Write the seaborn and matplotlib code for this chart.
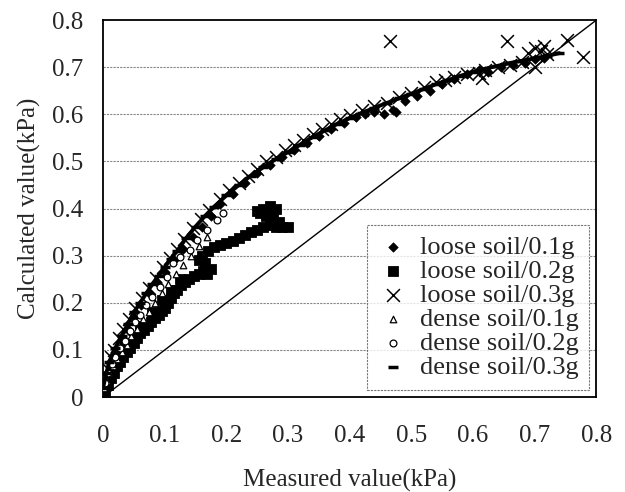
import matplotlib
matplotlib.use("Agg")
import matplotlib.pyplot as plt
import seaborn as sns
import pandas as pd

# 1:1 reference line
diag_x = [0.0, 0.8]
diag_y = [0.0, 0.8]

# loose soil / 0.1g (filled diamonds)
loose01_x = [0.002, 0.006, 0.012, 0.02, 0.03, 0.04, 0.05, 0.062, 0.075, 0.088, 0.10, 0.115,
             0.13, 0.145, 0.16, 0.175, 0.19, 0.21, 0.23, 0.25, 0.27, 0.29, 0.31, 0.33, 0.35,
             0.37, 0.39, 0.41, 0.425, 0.44, 0.455, 0.47, 0.475, 0.49, 0.51, 0.53, 0.55, 0.57,
             0.59, 0.61, 0.625, 0.645, 0.665, 0.685, 0.70, 0.715]
loose01_y = [0.02, 0.05, 0.07, 0.095, 0.12, 0.145, 0.17, 0.195, 0.22, 0.245, 0.265, 0.29,
             0.315, 0.34, 0.36, 0.385, 0.41, 0.43, 0.455, 0.475, 0.492, 0.51, 0.525, 0.54, 0.555,
             0.57, 0.582, 0.594, 0.60, 0.605, 0.60, 0.61, 0.605, 0.628, 0.64, 0.65, 0.664, 0.675,
             0.685, 0.695, 0.69, 0.70, 0.705, 0.71, 0.718, 0.72]

# loose soil / 0.2g (filled squares)
loose02_x = [0.003, 0.008, 0.012, 0.018, 0.022, 0.028, 0.033, 0.038, 0.044, 0.05, 0.055, 0.06,
             0.066, 0.072, 0.078, 0.084, 0.09, 0.096, 0.10, 0.105, 0.11, 0.115, 0.12, 0.127,
             0.133, 0.14, 0.147, 0.155, 0.162, 0.168, 0.175, 0.165, 0.155, 0.16, 0.17, 0.18,
             0.19, 0.20, 0.21, 0.22, 0.23, 0.24, 0.25, 0.26, 0.27, 0.28, 0.29, 0.30, 0.285,
             0.275, 0.265, 0.255, 0.26, 0.27, 0.28, 0.25,
             0.04, 0.06, 0.08, 0.095, 0.11, 0.125]
loose02_y = [0.01, 0.025, 0.04, 0.05, 0.065, 0.075, 0.085, 0.095, 0.105, 0.115, 0.125, 0.135,
             0.142, 0.15, 0.16, 0.168, 0.175, 0.183, 0.19, 0.20, 0.21, 0.22, 0.228, 0.238,
             0.245, 0.25, 0.256, 0.262, 0.268, 0.262, 0.272, 0.285, 0.29, 0.30, 0.31, 0.318,
             0.322, 0.328, 0.332, 0.338, 0.344, 0.35, 0.355, 0.36, 0.365, 0.362, 0.36, 0.362,
             0.372, 0.378, 0.385, 0.39, 0.40, 0.405, 0.40, 0.395,
             0.115, 0.15, 0.18, 0.205, 0.228, 0.25]

# loose soil / 0.3g (x marks)
loose03_x = [0.003, 0.008, 0.012, 0.018, 0.025, 0.033, 0.042, 0.052, 0.063, 0.074, 0.085, 0.097,
             0.108, 0.12, 0.132, 0.145, 0.158, 0.172, 0.19, 0.205, 0.22, 0.235, 0.25, 0.265,
             0.28, 0.295, 0.31, 0.325, 0.34, 0.355, 0.37, 0.385, 0.40, 0.42, 0.44, 0.46, 0.48,
             0.50, 0.52, 0.54, 0.555, 0.57, 0.59, 0.61, 0.615, 0.62, 0.64, 0.66, 0.68, 0.69,
             0.70, 0.71, 0.715, 0.72, 0.70, 0.465, 0.655, 0.752, 0.779]
loose03_y = [0.03, 0.06, 0.085, 0.10, 0.125, 0.145, 0.165, 0.19, 0.21, 0.232, 0.252, 0.275,
             0.295, 0.315, 0.335, 0.358, 0.378, 0.398, 0.42, 0.44, 0.455, 0.47, 0.485, 0.50,
             0.51, 0.525, 0.535, 0.545, 0.558, 0.57, 0.58, 0.59, 0.598, 0.61, 0.618, 0.625, 0.636,
             0.645, 0.658, 0.668, 0.672, 0.68, 0.685, 0.688, 0.678, 0.695, 0.70, 0.705, 0.712, 0.73,
             0.74, 0.735, 0.745, 0.728, 0.70, 0.755, 0.755, 0.758, 0.722]

# dense soil / 0.1g (open triangles)
dense01_x = [0.002, 0.006, 0.01, 0.016, 0.022, 0.03, 0.038, 0.046, 0.055, 0.064, 0.074, 0.084,
             0.095, 0.106, 0.118, 0.13, 0.142, 0.155, 0.168]
dense01_y = [0.02, 0.035, 0.05, 0.065, 0.08, 0.095, 0.11, 0.13, 0.145, 0.165, 0.18, 0.20,
             0.22, 0.24, 0.262, 0.28, 0.30, 0.32, 0.34]

# dense soil / 0.2g (open circles)
dense02_x = [0.003, 0.008, 0.014, 0.02, 0.027, 0.035, 0.043, 0.052, 0.06, 0.07, 0.08, 0.092,
             0.104, 0.114, 0.125, 0.141, 0.153, 0.169, 0.185, 0.195]
dense02_y = [0.03, 0.05, 0.07, 0.085, 0.105, 0.12, 0.14, 0.16, 0.175, 0.195, 0.212, 0.233,
             0.255, 0.284, 0.297, 0.312, 0.333, 0.354, 0.376, 0.39]

# dense soil / 0.3g (dash markers, dense enough to read as a thick curve)
dense03_x = [0.0, 0.005, 0.01, 0.02, 0.03, 0.04, 0.05, 0.06, 0.07, 0.08, 0.09, 0.10, 0.11,
             0.12, 0.135, 0.15, 0.165, 0.18, 0.20, 0.22, 0.24, 0.26, 0.28, 0.30, 0.32, 0.34,
             0.36, 0.38, 0.40, 0.42, 0.44, 0.46, 0.48, 0.50, 0.52, 0.54, 0.56, 0.58, 0.60,
             0.62, 0.64, 0.66, 0.68, 0.70, 0.72, 0.74]
dense03_y = [0.02, 0.05, 0.075, 0.105, 0.13, 0.155, 0.18, 0.20, 0.22, 0.24, 0.258, 0.276, 0.294,
             0.31, 0.338, 0.362, 0.384, 0.404, 0.428, 0.45, 0.47, 0.488, 0.505, 0.52, 0.536, 0.552,
             0.566, 0.58, 0.592, 0.603, 0.614, 0.624, 0.634, 0.644, 0.654, 0.664, 0.673, 0.682, 0.69,
             0.697, 0.703, 0.709, 0.714, 0.719, 0.724, 0.73]

tick_vals = [0, 0.1, 0.2, 0.3, 0.4, 0.5, 0.6, 0.7, 0.8]
tick_labels = ["0", "0.1", "0.2", "0.3", "0.4", "0.5", "0.6", "0.7", "0.8"]

sns.set_style("white")
plt.rcParams['font.family'] = ['Liberation Serif', 'DejaVu Serif']

fig = plt.figure(figsize=(6.25, 4.92), dpi=100)
ax = fig.add_axes([0.165, 0.193, 0.789, 0.766])

for yv in tick_vals[1:-1]:
    ax.axhline(yv, color='#888888', lw=0.8, ls=(0, (2, 1)), zorder=0)

sns.lineplot(x=diag_x, y=diag_y, color='black', lw=1.0, ax=ax, legend=False, zorder=1)

sns.scatterplot(x=loose01_x, y=loose01_y, marker='D', s=24, color='black', edgecolor='black',
                label='loose soil/0.1g', ax=ax, zorder=3)
sns.scatterplot(x=loose02_x, y=loose02_y, marker='s', s=55, color='black', edgecolor='black',
                label='loose soil/0.2g', ax=ax, zorder=3)
sns.scatterplot(x=loose03_x, y=loose03_y, marker='x', s=85, color='black', linewidth=1.1,
                label='loose soil/0.3g', ax=ax, zorder=3)
sns.scatterplot(x=dense01_x, y=dense01_y, marker='^', s=22, facecolor='white', edgecolor='black',
                linewidth=0.9, label='dense soil/0.1g', ax=ax, zorder=4)
sns.scatterplot(x=dense02_x, y=dense02_y, marker='o', s=24, facecolor='white', edgecolor='black',
                linewidth=0.9, label='dense soil/0.2g', ax=ax, zorder=4)
sns.lineplot(x=dense03_x, y=dense03_y, color='black', lw=2.8, sort=False, estimator=None,
             ax=ax, legend=False, zorder=5)
sns.scatterplot(x=dense03_x, y=dense03_y, marker='_', s=60, color='black', linewidth=2.5,
                label='dense soil/0.3g', ax=ax, zorder=5)

ax.set_xlim(0, 0.8)
ax.set_ylim(0, 0.8)
ax.set_xticks(tick_vals)
ax.set_xticklabels(tick_labels)
ax.set_yticks(tick_vals)
ax.set_yticklabels(tick_labels)
ax.tick_params(axis='x', direction='in', length=4, width=0.8, pad=20, labelsize=18)
ax.tick_params(axis='y', direction='in', length=0, pad=14, labelsize=18)
for sp in ax.spines.values():
    sp.set_color('black')
    sp.set_linewidth(1.3)

ax.set_xlabel('Measured value(kPa)', fontsize=18, labelpad=16)
ax.set_ylabel('Calculated value(kPa)', fontsize=18, labelpad=8)

leg = ax.legend(loc='lower right', bbox_to_anchor=(0.985, 0.02), fontsize=19, frameon=True,
                fancybox=False, edgecolor='#555555', handlelength=1.2, handletextpad=0.4,
                labelspacing=0.02, borderpad=0.4, borderaxespad=0.0, markerscale=1.0)
leg.get_frame().set_linewidth(0.8)
leg.get_frame().set_linestyle((0, (2, 1)))

fig.savefig('out.png', dpi=100)
